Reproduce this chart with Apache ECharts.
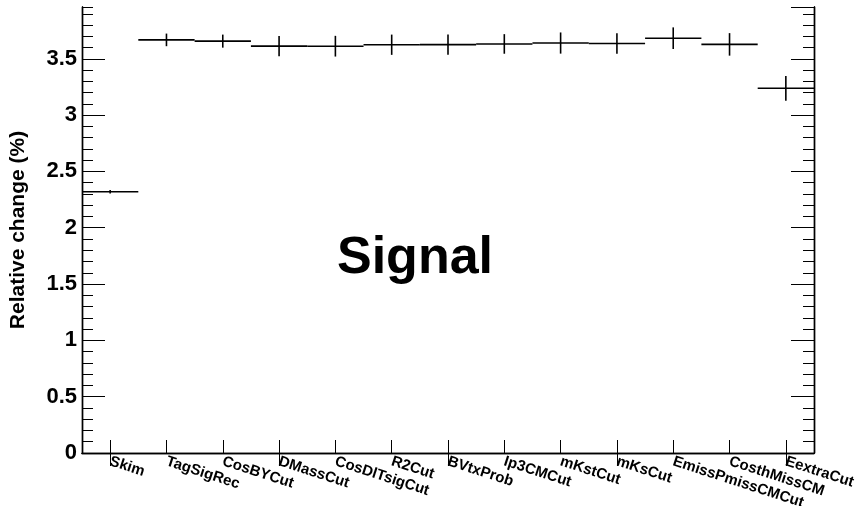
<!DOCTYPE html>
<html>
<head>
<meta charset="utf-8">
<script src="https://cdn.jsdelivr.net/npm/echarts@6/dist/echarts.min.js"></script>
<style>
  html, body { margin: 0; padding: 0; background: #fff; }
  #chart { width: 856px; height: 506px; }
</style>
</head>
<body>
<div id="chart"></div>
<script>
const categories = ['Skim', 'TagSigRec', 'CosBYCut', 'DMassCut', 'CosDlTsigCut', 'R2Cut', 'BVtxProb',
  'Ip3CMCut', 'mKstCut', 'mKsCut', 'EmissPmissCMCut', 'CosthMissCM', 'EextraCut']
const values = [2.32, 3.668, 3.657, 3.613, 3.612, 3.625, 3.626, 3.632, 3.64, 3.636, 3.683, 3.628, 3.238]
const errors = [0.015, 0.056, 0.058, 0.09, 0.092, 0.09, 0.09, 0.087, 0.094, 0.092, 0.096, 0.1, 0.11]
const yTicks = [0, 0.5, 1, 1.5, 2, 2.5, 3, 3.5]

const FONT = '"Liberation Sans", Arial, sans-serif'
const yMax = 3.96

initChart()

function initChart () {
  const dom = echarts.init(document.getElementById('chart'))
  const lineStyle = { color: '#000', width: 1.4 }

  // one value axis per tick length: major ticks and minor ticks, left and right
  function yAxis (position, interval, tickLen, withLabels) {
    return {
      type: 'value',
      position,
      min: 0,
      max: yMax,
      interval,
      axisLine: { show: true, lineStyle },
      axisTick: { show: true, inside: true, length: tickLen, lineStyle: { color: '#000', width: 1 } },
      axisLabel: withLabels ? {
        show: true,
        showMaxLabel: false,
        color: '#000',
        fontSize: 22,
        fontWeight: 'bold',
        fontFamily: FONT,
        margin: 5,
        formatter: v => yTicks.indexOf(v) >= 0 ? String(v) : ''
      } : { show: false },
      splitLine: { show: false }
    }
  }

  const yAxes = [yAxis('left', 0.5, 23, true), yAxis('left', 0.1, 11, false),
    yAxis('right', 0.5, 23, false), yAxis('right', 0.1, 11, false)]
  yAxes[0].name = 'Relative change (%)'
  yAxes[0].nameLocation = 'middle'
  yAxes[0].nameGap = 53
  yAxes[0].nameTextStyle = { color: '#000', fontSize: 21, fontWeight: 'bold', fontFamily: FONT }

  const option = {
    animation: false,
    backgroundColor: '#fff',
    grid: { left: 82, right: 42, top: 7, bottom: 53, outerBoundsMode: 'none' },
    xAxis: [{
      type: 'category',
      data: categories,
      position: 'bottom',
      axisLine: { show: true, lineStyle },
      axisTick: { show: true, inside: true, alignWithLabel: true, length: 13, lineStyle: { color: '#000', width: 1 } },
      axisLabel: {
        interval: 0,
        rotate: -18,
        margin: 8,
        color: '#000',
        fontSize: 15,
        fontWeight: 'bold',
        fontFamily: FONT
      },
      splitLine: { show: false }
    }, {
      type: 'category',
      data: categories,
      position: 'top',
      axisLine: { show: true, lineStyle },
      axisTick: { show: true, inside: true, alignWithLabel: true, length: 13, lineStyle: { color: '#000', width: 1 } },
      axisLabel: { show: false },
      splitLine: { show: false }
    }],
    yAxis: yAxes,
    graphic: [{
      type: 'text',
      x: 415,
      y: 259,
      style: {
        text: 'Signal',
        textAlign: 'center',
        textVerticalAlign: 'middle',
        fontSize: 52,
        fontWeight: 'bold',
        fontFamily: FONT,
        fill: '#000'
      }
    }],
    series: [{
      type: 'custom',
      xAxisIndex: 0,
      yAxisIndex: 0,
      data: values.map((v, i) => [i, v, errors[i]]),
      renderItem: function (params, api) {
        const i = api.value(0)
        const v = api.value(1)
        const e = api.value(2)
        const c = api.coord([i, v])
        const bw = api.size([1, 0])[0]
        const lo = api.coord([i, v - e])
        const hi = api.coord([i, v + e])
        const st = { stroke: '#000', lineWidth: 1.6 }
        return {
          type: 'group',
          children: [{
            type: 'line',
            shape: { x1: c[0] - bw / 2, y1: c[1], x2: c[0] + bw / 2, y2: c[1] },
            style: st
          }, {
            type: 'line',
            shape: { x1: c[0], y1: lo[1], x2: c[0], y2: hi[1] },
            style: st
          }]
        }
      }
    }]
  }
  dom.setOption(option)
}
</script>
</body>
</html>
